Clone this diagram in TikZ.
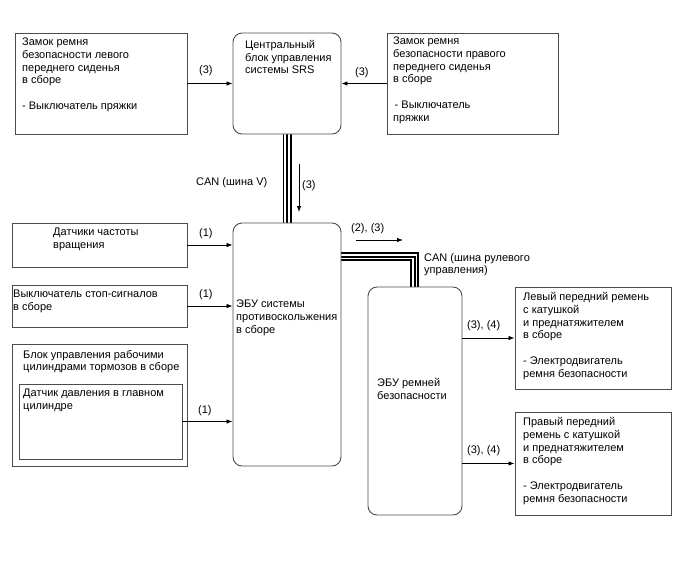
\documentclass[tikz,border=0pt]{standalone}
\usepackage{fontspec}
\setmainfont{Liberation Sans}
\usetikzlibrary{arrows.meta}
\tikzset{
  box/.style={draw=black!70, line width=0.9pt, fill=white, inner sep=0pt},
  rbox/.style={box, rounded corners=9pt},
  txt/.style={anchor=north west, inner sep=0pt, align=left},
  arr/.style={draw=black, line width=0.8pt, -{Latex[length=6pt,width=4.5pt]}},
  cableA/.style={draw=black, line width=9pt, line join=miter},
  cableB/.style={draw=white, line width=5.5pt, line join=miter},
  cableC/.style={draw=black, line width=2pt, line join=miter},
}
\begin{document}
\begin{tikzpicture}[x=1pt, y=-1pt, font=\fontsize{11.0}{12.7}\selectfont]
\useasboundingbox (0,0) rectangle (688,560);
\coordinate (cb) at (414.5,256.5);
\path (287,83.5) coordinate (srsC) (287,344.5) coordinate (absC) (415,401) coordinate (ecuC);
% cables drawn first
\draw[cableA] (287,134) -- (287,223);
\draw[cableB] (287,134) -- (287,223);
\draw[cableC] (287,134) -- (287,223);
\draw[cableA] (341,256.5) -- (cb) -- (414.5,287);
\draw[cableB] (341,256.5) -- (cb) -- (414.5,287);
\draw[cableC] (341,256.5) -- (cb) -- (414.5,287);

% boxes
\node[box, minimum width=172pt, minimum height=101pt] (b1) at (101,83.5) {};
\node[rbox, minimum width=108pt, minimum height=101pt] (srs) at (srsC) {};
\node[box, minimum width=171pt, minimum height=101pt] (b2) at (472.5,83.5) {};
\node[box, minimum width=175pt, minimum height=44pt] (sp) at (99.5,245) {};
\node[box, minimum width=175pt, minimum height=42pt] (stp) at (99.5,306) {};
\node[box, minimum width=175pt, minimum height=122pt] (brk) at (99.5,405) {};
\node[box, minimum width=163pt, minimum height=75pt] (prs) at (100.5,421.5) {};
\node[rbox, minimum width=108pt, minimum height=243pt] (abs) at (absC) {};
\node[rbox, minimum width=94pt, minimum height=228pt] (ecu) at (ecuC) {};
\node[box, minimum width=156pt, minimum height=102pt] (lb) at (593,338) {};
\node[box, minimum width=156pt, minimum height=103pt] (rb) at (593,463.5) {};

% texts
\node[txt] (t1) at (22,38) {Замок ремня\\безопасности левого\\переднего сиденья\\в сборе\\[12.7pt]- Выключатель пряжки};
\node[txt] (tsrs) at (245,40) {Центральный\\блок управления\\системы SRS};
\node[txt] (t2) at (393,37) {Замок ремня\\безопасности правого\\переднего сиденья\\в сборе\\[12.7pt]\hspace{1.5pt}- Выключатель\\пряжки};
\node[txt] (tsp) at (53,228) {Датчики частоты\\вращения};
\node[txt] (tstp) at (13,290) {Выключатель стоп-сигналов\\в сборе};
\node[txt] (tbrk) at (23,350) {Блок управления рабочими\\цилиндрами тормозов в сборе};
\node[txt] (tprs) at (23,389) {Датчик давления в главном\\цилиндре};
\node[txt] (tabs) at (236,300) {ЭБУ системы\\противоскольжения\\в сборе};
\node[txt] (tecu) at (377,378) {ЭБУ ремней\\безопасности};
\node[txt] (tlb) at (523,292.5) {Левый передний ремень\\с катушкой\\и преднатяжителем\\в сборе\\[12.7pt]- Электродвигатель\\ремня безопасности};
\node[txt] (trb) at (523,417.5) {Правый передний\\ремень с катушкой\\и преднатяжителем\\в сборе\\[12.7pt]- Электродвигатель\\ремня безопасности};

% labels
\node[txt] (l3a) at (199,65) {(3)};
\node[txt] (l3b) at (355,67) {(3)};
\node[txt] (lcanv) at (196,177) {CAN (шина V)};
\node[txt] (l3c) at (302,180) {(3)};
\node[txt] (l1a) at (199,228) {(1)};
\node[txt] (l1b) at (199,289) {(1)};
\node[txt] (l1c) at (198,405) {(1)};
\node[txt] (l23) at (351,223) {(2), (3)};
\node[txt] (lcans) at (424,253) {CAN (шина рулевого\\управления)};
\node[txt] (l34a) at (467,320) {(3), (4)};
\node[txt] (l34b) at (467,445) {(3), (4)};

% connectors
\draw[arr] (b1.east) -- (srs.west);
\draw[arr] (b2.west) -- (srs.east);
\draw[arr] (sp.east) -- (sp.east -| abs.west);
\draw[arr] (stp.east) -- (stp.east -| abs.west);
\draw[arr] (prs.east) -- (prs.east -| abs.west);
\draw[arr] (ecu.east |- lb.west) -- (lb.west);
\draw[arr] (ecu.east |- rb.west) -- (rb.west);
\coordinate (d1) at (299,164);
\coordinate (d2) at (299,212);
\draw[arr] (d1) -- (d2);
\coordinate (h1) at (356,240);
\coordinate (h2) at (403,240);
\draw[arr] (h1) -- (h2);
\end{tikzpicture}
\end{document}
